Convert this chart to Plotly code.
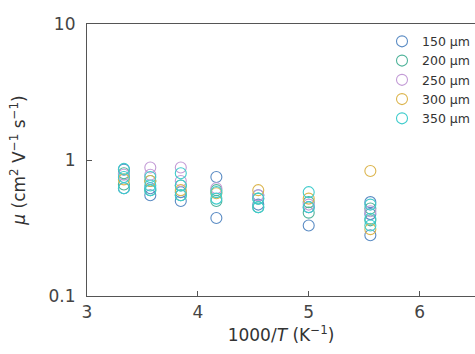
import plotly.graph_objects as go

# 1000/T positions (K^-1) for 300,280,260,240,220,200,180 K
temps_x = [3.333, 3.571, 3.846, 4.167, 4.545, 5.0, 5.556]

series_names = ["150 μm", "200 μm", "250 μm", "300 μm", "350 μm"]
series_colors = ["#5b8cc4", "#4fb39a", "#c39bd6", "#dcb54e", "#3fcccc"]

mu_150 = [[0.85, 0.62], [0.55, 0.62], [0.50, 0.58], [0.75, 0.375], [0.47, 0.55], [0.33, 0.45], [0.49, 0.28, 0.40]]
mu_200 = [[0.80, 0.66], [0.60, 0.70], [0.55, 0.65], [0.50, 0.60], [0.45, 0.52], [0.41, 0.49], [0.36, 0.44]]
mu_250 = [[0.78], [0.88, 0.78], [0.88, 0.70], [0.62], [0.55], [0.47], [0.42]]
mu_300 = [[0.72], [0.70], [0.60], [0.57], [0.60], [0.52], [0.83, 0.31]]
mu_350 = [[0.86, 0.75, 0.62], [0.65, 0.60, 0.75], [0.80, 0.65, 0.55], [0.58, 0.52], [0.52, 0.45], [0.58, 0.45], [0.47, 0.37, 0.33]]

all_mu = [mu_150, mu_200, mu_250, mu_300, mu_350]

fig = go.Figure()
for name, color, mu in zip(series_names, series_colors, all_mu):
    xs, ys = [], []
    for tx, vals in zip(temps_x, mu):
        for v in vals:
            xs.append(tx)
            ys.append(v)
    fig.add_trace(go.Scatter(
        x=xs, y=ys, mode="markers", name=name,
        marker=dict(symbol="circle-open", size=11, color=color, line=dict(width=1.1, color=color)),
    ))

font_family = "DejaVu Sans, sans-serif"
fig.update_layout(
    width=475, height=354,
    margin=dict(l=87, r=0, t=24, b=58),
    paper_bgcolor="white", plot_bgcolor="white",
    font=dict(family=font_family, size=15, color="#333333"),
    showlegend=True,
    legend=dict(
        x=1.0, y=0.99, xanchor="right", yanchor="top",
        bgcolor="rgba(0,0,0,0)", borderwidth=0,
        font=dict(size=12.5, color="#333333"),
        itemwidth=30, tracegroupgap=0,
    ),
    xaxis=dict(
        range=[3, 6.5], tickvals=[3, 4, 5, 6], ticktext=["3", "4", "5", "6"],
        showgrid=False, zeroline=False,
        showline=True, linecolor="#555555", linewidth=1.2, mirror=True,
        ticks="inside", ticklen=5, tickcolor="#555555",
        tickfont=dict(size=17, color="#444444"),
        title=dict(text="1000/<i>T</i> (K<sup>−1</sup>)", font=dict(size=17, color="#333333"), standoff=8),
    ),
    yaxis=dict(
        type="log", range=[-1, 1], tickvals=[0.1, 1, 10], ticktext=["0.1", "1", "10"],
        showgrid=False, zeroline=False,
        showline=True, linecolor="#555555", linewidth=1.2, mirror=False,
        ticks="inside", ticklen=5, tickcolor="#555555",
        tickfont=dict(size=17, color="#444444"),
        ticklabelstandoff=7,
        title=dict(text="<i>μ</i> (cm<sup>2</sup> V<sup>−1</sup> s<sup>−1</sup>)", font=dict(size=17, color="#333333"), standoff=18),
    ),
)

fig.write_html("out.html")
